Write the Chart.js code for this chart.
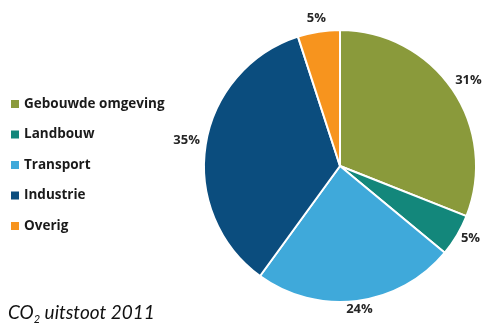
<!DOCTYPE html>
<html>
<head>
<meta charset="utf-8">
<script src="https://cdn.jsdelivr.net/npm/chart.js@4/dist/chart.umd.min.js"></script>
<style>
  html, body { margin: 0; padding: 0; background: #ffffff; }
  #wrap { position: relative; width: 487px; height: 331px; }
  canvas { display: block; }
  #caption {
    position: absolute; left: 8px; top: 300px;
    font-family: Lato, "Open Sans", sans-serif; font-style: italic;
    font-size: 19px; color: #111; white-space: nowrap;
  }
  #caption sub { font-size: 11px; vertical-align: -4px; line-height: 0; }
</style>
</head>
<body>
<div id="wrap">
  <canvas id="c" width="487" height="331"></canvas>
  <div id="caption">CO<sub>2</sub> uitstoot 2011</div>
</div>
<script>
// CO2 emissions by sector, 2011 (percent)
const categories = ["Gebouwde omgeving", "Landbouw", "Transport", "Industrie", "Overig"];
const shares = [31, 5, 24, 35, 5];
const colors = ["#8a9a3b", "#13877b", "#3fa9da", "#0b4d7e", "#f7941e"];

const FONT = "'Open Sans', Lato, sans-serif";

// Legend drawn on the left side of the canvas
const sideLegend = {
  id: "sideLegend",
  afterDraw(chart) {
    const ctx = chart.ctx;
    ctx.save();
    ctx.font = "bold 13.5px " + FONT;
    ctx.textBaseline = "middle";
    ctx.textAlign = "left";
    const top = 104, step = 30.5;
    categories.forEach((name, i) => {
      const y = top + i * step;
      ctx.fillStyle = colors[i];
      ctx.fillRect(11, y - 4, 8, 8);
      ctx.fillStyle = "#1a1a1a";
      ctx.fillText(name, 24, y);
    });
    ctx.restore();
  }
};

// Percentage labels just outside each slice
const outsideLabels = {
  id: "outsideLabels",
  afterDatasetsDraw(chart) {
    const ctx = chart.ctx;
    const meta = chart.getDatasetMeta(0);
    ctx.save();
    ctx.font = "bold 13px " + FONT;
    ctx.fillStyle = "#262626";
    ctx.textBaseline = "middle";
    meta.data.forEach((arc, i) => {
      const p = arc.getProps(["x", "y", "startAngle", "endAngle", "outerRadius"], true);
      const mid = (p.startAngle + p.endAngle) / 2;
      const cos = Math.cos(mid), sin = Math.sin(mid);
      const r = p.outerRadius + 5;
      const text = shares[i] + "%";
      const w = ctx.measureText(text).width;
      const x = p.x + cos * r + cos * (w / 2 + 1);
      const y = p.y + sin * r + sin * 6 - 3;
      ctx.textAlign = "center";
      ctx.fillText(text, x, y);
    });
    ctx.restore();
  }
};

new Chart(document.getElementById("c"), {
  type: "pie",
  data: {
    labels: categories,
    datasets: [{
      data: shares,
      backgroundColor: colors,
      borderColor: "#ffffff",
      borderWidth: 2
    }]
  },
  options: {
    responsive: false,
    animation: false,
    layout: { padding: { left: 203, right: 10, top: 29, bottom: 28 } },
    plugins: {
      legend: { display: false },
      tooltip: { enabled: false }
    }
  },
  plugins: [sideLegend, outsideLabels]
});
</script>
</body>
</html>
